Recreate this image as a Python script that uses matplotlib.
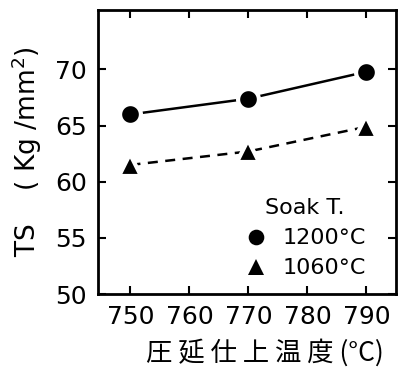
import matplotlib
matplotlib.use("Agg")
import matplotlib.pyplot as plt

# finishing temperature (deg C)
finish_temp = [750, 770, 790]
# tensile strength, kg/mm2
ts_1200 = [66.0, 67.4, 69.8]
ts_1060 = [61.5, 62.7, 64.9]

x_ticks = [750, 760, 770, 780, 790]
y_ticks = [50, 55, 60, 65, 70]

plt.rcParams['font.family'] = ['DejaVu Sans']

fig = plt.figure(figsize=(4.04, 3.74), dpi=100)
ax = fig.add_axes([98 / 404, 1 - 294 / 374, 298 / 404, 284 / 374])

ax.plot(finish_temp, ts_1200, '-', color='black', lw=1.8,
        marker='o', ms=15, mfc='black', mec='white', mew=3, label='1200°C')
ax.plot(finish_temp, ts_1060, '--', color='black', lw=1.8, dashes=(4, 3),
        marker='^', ms=16, mfc='black', mec='white', mew=3, label='1060°C')

ax.set_xlim(744.5, 795)
ax.set_ylim(50, 75.3)
ax.set_xticks(x_ticks)
ax.set_yticks(y_ticks)
ax.tick_params(direction='in', length=6, width=1.5, top=True, right=True,
               labelsize=18, pad=8)
for s in ax.spines.values():
    s.set_linewidth(2)

ax.set_ylabel('TS    ( Kg /mm$^2$)', fontsize=19, labelpad=8)
ax.set_xlabel('圧 延 仕 上 温 度 (°C)', fontsize=19, labelpad=2,
              family=['Noto Sans CJK JP', 'DejaVu Sans'])
ax.xaxis.set_label_coords(0.56, -0.16)

leg = ax.legend(title='Soak T.', loc='lower right', frameon=False,
                fontsize=16, title_fontsize=16, handletextpad=0.7,
                bbox_to_anchor=(0.95, 0.0), borderaxespad=0.3,
                markerscale=0.75, handlelength=1.0, labelspacing=0.45)
for h in leg.legend_handles:
    h.set_linestyle('none')
    h.set_markeredgewidth(0)

fig.savefig('out.png', dpi=100)
